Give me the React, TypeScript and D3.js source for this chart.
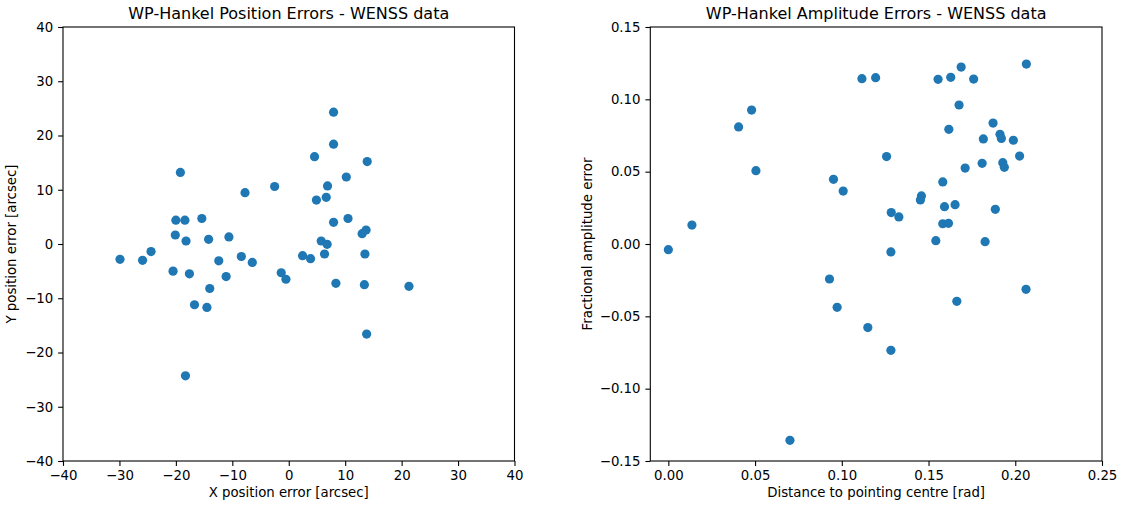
import { useRef, useEffect } from 'react';
import * as d3 from 'd3';

// Left panel: position errors [arcsec]
const posX = [-19.2, -7.75, -2.5, -20.0, -18.4, -15.4, -20.1, -18.2, -14.2, -10.6, -29.9, -25.9, -24.4, -12.4, -8.4, -6.46, -20.5, -17.6, -11.1, -1.33, -0.5, -14.0, -16.7, -14.5, -18.3, 7.94, 7.94, 4.57, 13.9, 10.2, 6.87, 6.64, 4.9, 7.94, 10.5, 13.7, 13.0, 5.75, 6.8, 2.45, 3.86, 6.34, 13.5, 8.35, 13.4, 21.3, 13.8];
const posY = [13.2, 9.46, 10.6, 4.4, 4.4, 4.7, 1.66, 0.55, 0.86, 1.3, -2.83, -3.0, -1.4, -3.1, -2.3, -3.4, -5.0, -5.5, -6.0, -5.3, -6.5, -8.2, -11.2, -11.7, -24.3, 24.3, 18.4, 16.1, 15.2, 12.35, 10.7, 8.6, 8.1, 4.0, 4.7, 2.58, 1.9, 0.55, -0.06, -2.15, -2.7, -1.84, -1.84, -7.25, -7.5, -7.8, -16.6];

// Right panel: amplitude errors vs distance [rad]
const ampDist = [0.0, 0.0136, 0.0405, 0.048, 0.0505, 0.0952, 0.1008, 0.1116, 0.1195, 0.1555, 0.1628, 0.1688, 0.176, 0.2064, 0.1676, 0.1872, 0.1617, 0.1816, 0.1912, 0.192, 0.1989, 0.1258, 0.2025, 0.1711, 0.1809, 0.1928, 0.1937, 0.1582, 0.1459, 0.1453, 0.1285, 0.1329, 0.1592, 0.1653, 0.1885, 0.1582, 0.1615, 0.1542, 0.1826, 0.1283, 0.0929, 0.0973, 0.115, 0.1283, 0.1663, 0.2062, 0.0701];
const ampErr = [-0.0039, 0.0131, 0.0809, 0.0926, 0.0507, 0.0447, 0.0366, 0.1143, 0.115, 0.1138, 0.1152, 0.1223, 0.114, 0.1244, 0.0961, 0.0836, 0.0793, 0.0726, 0.0758, 0.073, 0.0717, 0.0604, 0.0608, 0.0525, 0.0558, 0.0562, 0.053, 0.0429, 0.0332, 0.0304, 0.0217, 0.0187, 0.0258, 0.0272, 0.024, 0.014, 0.0143, 0.0023, 0.0016, -0.0055, -0.0242, -0.0438, -0.0578, -0.0735, -0.0396, -0.0313, -0.1357];

const posTicks = [-40, -30, -20, -10, 0, 10, 20, 30, 40];
const distTicks = [0.0, 0.05, 0.1, 0.15, 0.2, 0.25];
const ampTicks = [-0.15, -0.1, -0.05, 0.0, 0.05, 0.1, 0.15];

const W = 1121;
const H = 505;
const FONT = 'DejaVu Sans, sans-serif';
const BLUE = '#1f77b4';

const fmtMinus = (s: string) => s.replace('-', '\u2212');

const App = () => {
  const svgRef = useRef<SVGSVGElement | null>(null);

  useEffect(() => {
    const svg = d3.select(svgRef.current);
    svg.selectAll('*').remove();

    const top = 27;
    const bottom = 461;

    const panels = [
      {
        left: 63, right: 514.5,
        x: d3.scaleLinear().domain([-40, 40]),
        y: d3.scaleLinear().domain([-40, 40]),
        xs: posX, ys: posY,
        xTicks: posTicks, yTicks: posTicks,
        xFmt: (d: number) => fmtMinus(String(d)),
        yFmt: (d: number) => fmtMinus(String(d)),
        title: 'WP-Hankel Position Errors - WENSS data',
        xLabel: 'X position error [arcsec]',
        yLabel: 'Y position error [arcsec]',
        yLabelX: 16,
      },
      {
        left: 650.3, right: 1102,
        x: d3.scaleLinear().domain([-0.0104, 0.25]),
        y: d3.scaleLinear().domain([-0.15, 0.15]),
        xs: ampDist, ys: ampErr,
        xTicks: distTicks, yTicks: ampTicks,
        xFmt: (d: number) => fmtMinus(d3.format('.2f')(d)),
        yFmt: (d: number) => fmtMinus(d3.format('.2f')(d)),
        title: 'WP-Hankel Amplitude Errors - WENSS data',
        xLabel: 'Distance to pointing centre [rad]',
        yLabel: 'Fractional amplitude error',
        yLabelX: 592,
      },
    ];

    panels.forEach(p => {
      const xScale = p.x.range([p.left, p.right]);
      const yScale = p.y.range([bottom, top]);
      const g = svg.append('g');

      // points
      g.selectAll('.pt')
        .data(p.xs.map((v, i) => [v, p.ys[i]]))
        .enter()
        .append('circle')
        .attr('cx', d => xScale(d[0]))
        .attr('cy', d => yScale(d[1]))
        .attr('r', 4.6)
        .attr('fill', BLUE);

      // axes
      const xAxis = d3.axisBottom(xScale)
        .tickValues(p.xTicks)
        .tickSize(4.9)
        .tickPadding(4.9)
        .tickFormat(d => p.xFmt(d as number));
      const yAxis = d3.axisLeft(yScale)
        .tickValues(p.yTicks)
        .tickSize(4.9)
        .tickPadding(4.9)
        .tickFormat(d => p.yFmt(d as number));

      const gx = g.append('g').attr('transform', `translate(0,${bottom})`).call(xAxis);
      const gy = g.append('g').attr('transform', `translate(${p.left},0)`).call(yAxis);
      [gx, gy].forEach(a => {
        a.select('.domain').remove();
        a.selectAll('line').attr('stroke', '#000').attr('stroke-width', 1.1);
        a.selectAll('text')
          .attr('fill', '#000')
          .attr('font-family', FONT)
          .attr('font-size', '13.3px');
      });

      // frame
      g.append('rect')
        .attr('x', p.left)
        .attr('y', top)
        .attr('width', p.right - p.left)
        .attr('height', bottom - top)
        .attr('fill', 'none')
        .attr('stroke', '#000')
        .attr('stroke-width', 1.1);

      // title and labels
      g.append('text')
        .attr('x', (p.left + p.right) / 2)
        .attr('y', 19)
        .attr('text-anchor', 'middle')
        .attr('font-family', FONT)
        .attr('font-size', '16px')
        .text(p.title);

      g.append('text')
        .attr('x', (p.left + p.right) / 2)
        .attr('y', 497)
        .attr('text-anchor', 'middle')
        .attr('font-family', FONT)
        .attr('font-size', '13.3px')
        .text(p.xLabel);

      g.append('text')
        .attr('transform', `translate(${p.yLabelX},${(top + bottom) / 2}) rotate(-90)`)
        .attr('text-anchor', 'middle')
        .attr('font-family', FONT)
        .attr('font-size', '13.3px')
        .text(p.yLabel);
    });
  }, []);

  return (
    <svg
      ref={svgRef}
      width={W}
      height={H}
      style={{ position: 'absolute', left: 0, top: 0, background: '#fff' }}
    />
  );
};

export default App;
